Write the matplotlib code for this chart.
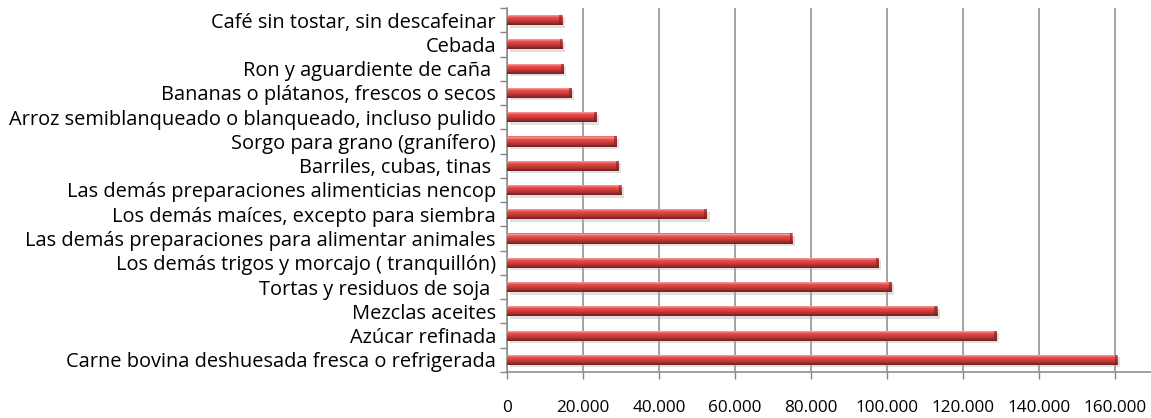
import numpy as np
import matplotlib.pyplot as plt
from matplotlib.colors import LinearSegmentedColormap
from matplotlib.ticker import FuncFormatter, FixedLocator

# data (top to bottom as shown in the chart)
productos = [
    "Café sin tostar, sin descafeinar",
    "Cebada",
    "Ron y aguardiente de caña ",
    "Bananas o plátanos, frescos o secos",
    "Arroz semiblanqueado o blanqueado, incluso pulido",
    "Sorgo para grano (granífero)",
    "Barriles, cubas, tinas ",
    "Las demás preparaciones alimenticias nencop",
    "Los demás maíces, excepto para siembra",
    "Las demás preparaciones para alimentar animales",
    "Los demás trigos y morcajo ( tranquillón)",
    "Tortas y residuos de soja ",
    "Mezclas aceites",
    "Azúcar refinada",
    "Carne bovina deshuesada fresca o refrigerada",
]
valores = [14500, 14600, 14900, 17000, 23600, 28900, 29400, 30100,
           52600, 75100, 97800, 101200, 113200, 128900, 160600]

xticks = [0, 20000, 40000, 60000, 80000, 100000, 120000, 140000, 160000]

plt.rcParams['font.family'] = ['Open Sans', 'DejaVu Sans']

fig = plt.figure(figsize=(11.51, 4.18), dpi=100)
ax = fig.add_axes([507/1151, 1 - 372/418, 1 - 507/1151, (372 - 8)/418])

n = len(productos)
ypos = np.arange(n)[::-1]   # first item on top
h = 0.42

grad = LinearSegmentedColormap.from_list('bar3d', [
    (0.0, '#dc5856'), (0.12, '#f7a3a1'), (0.28, '#ee4f4d'),
    (0.55, '#cf3d3b'), (0.8, '#a02f2d'), (1.0, '#6a1f1e')])
img = np.linspace(0, 1, 64).reshape(-1, 1)

for y, v in zip(ypos, valores):
    # soft shadow
    ax.barh(y - 0.1, v, height=h, left=700, color='#a8a8a8', alpha=0.35,
            linewidth=0, zorder=2)
    bar = ax.barh(y, v, height=h, color='#c0504d', linewidth=0, zorder=3)[0]
    im = ax.imshow(img, cmap=grad, aspect='auto', interpolation='bilinear',
                   extent=[0, v, y - h/2, y + h/2], zorder=4)
    im.set_clip_path(bar)
    # darker end cap
    ax.barh(y, 700, left=v - 700, height=h, color='#7a2524',
            alpha=0.6, linewidth=0, zorder=5)

ax.set_xlim(0, 169500)
ax.set_ylim(-0.5, n - 0.5)

ax.xaxis.set_major_locator(FixedLocator(xticks))
ax.xaxis.set_major_formatter(FuncFormatter(
    lambda x, p: f"{int(x):,}".replace(",", ".")))
ax.grid(axis='x', color='#8c8c8c', linewidth=1.1, zorder=0)
ax.set_axisbelow(True)

ax.set_yticks(ypos)
ax.set_yticklabels(productos, fontsize=14.4)
ax.tick_params(axis='y', which='major', length=0, pad=8)
ax.yaxis.set_minor_locator(FixedLocator(np.arange(-0.5, n, 1.0)))
ax.tick_params(axis='y', which='minor', length=5, color='#868686', width=1)
ax.tick_params(axis='x', length=5, color='#868686', width=1, pad=15,
               labelsize=12.3)

for s in ['top', 'right']:
    ax.spines[s].set_visible(False)
for s in ['left', 'bottom']:
    ax.spines[s].set_color('#868686')
    ax.spines[s].set_linewidth(1.1)

plt.savefig('out.png', dpi=100)
